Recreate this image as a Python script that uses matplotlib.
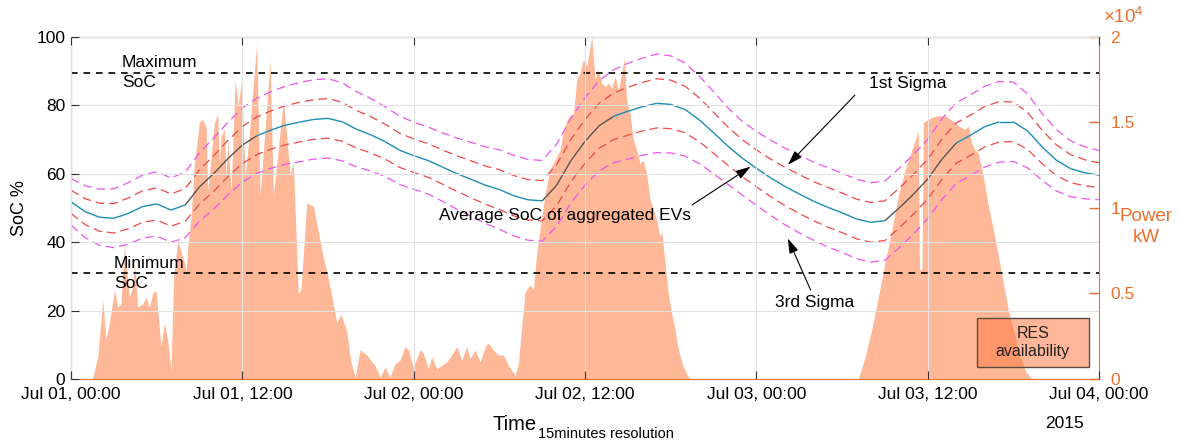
import numpy as np
import matplotlib
matplotlib.use("Agg")
import matplotlib.pyplot as plt
from matplotlib.collections import LineCollection
from matplotlib.patches import Rectangle

plt.rcParams['font.family'] = ['Liberation Sans', 'DejaVu Sans']
plt.rcParams['mathtext.fontset'] = 'custom'
plt.rcParams['mathtext.rm'] = 'Liberation Sans'
plt.rcParams['mathtext.it'] = 'Liberation Sans:italic'

# ---------------- data ----------------
hours = list(range(73))
avg_soc = [51.8, 48.9, 47.3, 47.0, 48.4, 50.4, 51.2, 49.4, 50.9, 56.2,
           60.1, 64.5, 68.4, 71.1, 72.8, 74.2, 75.1, 75.9, 76.2, 75.2,
           73.0, 71.4, 69.4, 66.9, 65.3, 63.9, 62.0, 60.1, 58.4, 56.7,
           55.4, 53.6, 52.4, 52.1, 56.6, 63.8, 69.5, 74.1, 76.8, 78.3,
           79.6, 80.6, 80.3, 78.8, 75.8, 72.0, 68.1, 64.6, 61.6, 58.8,
           56.3, 54.1, 52.0, 50.2, 48.6, 46.8, 45.8, 46.3, 50.0, 54.0,
           58.5, 64.3, 69.0, 71.3, 73.8, 75.2, 75.2, 72.5, 67.9, 64.0,
           61.5, 60.3, 59.6]
sigma = [3.4, 3.8, 4.1, 4.3, 4.5, 4.6, 4.7, 4.7, 4.8, 5.0,
         5.2, 5.3, 5.4, 5.5, 5.6, 5.7, 5.8, 5.8, 5.8, 5.7,
         5.5, 5.3, 5.1, 5.0, 4.9, 4.9, 5.0, 5.2, 5.4, 5.6,
         5.8, 5.9, 5.9, 5.9, 6.0, 6.2, 6.4, 6.6, 6.8, 7.0,
         7.1, 7.2, 7.1, 6.8, 6.4, 6.0, 5.6, 5.4, 5.4, 5.5,
         5.6, 5.7, 5.7, 5.8, 5.8, 5.8, 5.8, 5.8, 5.8, 5.8,
         5.8, 5.9, 5.9, 5.9, 5.9, 5.9, 5.8, 5.4, 4.9, 4.5,
         4.1, 3.8, 3.6]

res_hours = [0, 1.5, 1.87, 2.22, 2.45, 2.69, 3.04, 3.27, 3.50, 3.74, 3.85, 4.09, 4.32, 4.44, 4.67,
             5.02, 5.25, 5.49, 5.72, 5.95, 6.19, 6.30, 6.54, 6.77, 7.00, 7.19, 7.47, 7.70, 7.94,
             8.06, 8.17, 8.41, 8.64, 8.99, 9.22, 9.46, 9.57, 9.81, 10.04, 10.27, 10.39, 10.51,
             10.74, 10.86, 10.97, 11.21, 11.32, 11.49, 11.70, 11.95, 12.19, 12.50, 13.00, 13.24,
             13.94, 14.17, 14.87, 15.34, 15.57, 15.92, 16.10, 16.51, 16.97, 17.30, 17.67, 17.91,
             18.30, 18.61, 18.90, 19.31, 19.60, 19.90, 20.24, 20.71, 21.29, 21.64, 21.99, 22.34,
             22.69, 23.04, 23.39, 23.63, 23.97, 24.44, 24.68, 25.03, 25.26, 25.61, 25.96, 26.31,
             26.66, 27.01, 27.36, 27.71, 27.94, 28.30, 28.65, 29.00, 29.23, 29.58, 29.93, 30.28,
             30.63, 30.87, 31.10, 31.33, 31.57, 31.80, 32.15, 32.38, 32.62, 32.85, 33.20, 33.55,
             33.90, 34.25, 34.46, 34.72, 34.95, 35.18, 35.42, 35.65, 35.88, 36.12, 36.30, 36.47,
             36.58, 36.70, 36.93, 37.17, 37.40, 37.63, 37.87, 38.10, 38.33, 38.57, 38.73, 38.92,
             39.15, 39.38, 39.62, 39.85, 40.08, 40.32, 40.55, 40.78, 41.02, 41.25, 41.37, 41.60,
             41.83, 42.07, 42.30, 42.54, 42.89, 43.24, 43.58, 55.14, 55.61, 56.08, 56.54, 57.01,
             57.48, 57.94, 58.41, 58.88, 59.23, 59.34, 59.42, 59.60, 59.69, 60.28, 60.74, 61.21,
             61.56, 61.91, 62.15, 62.61, 62.85, 63.08, 63.31, 63.55, 63.90, 64.25, 64.60, 64.95,
             65.30, 65.65, 66.00, 66.47, 66.82, 67.17, 67.52, 72]
# RES power in units of 10^4 kW
res_power = [0, 0, 0.13, 0.46, 0.23, 0.33, 0.52, 0.42, 0.44, 0.79, 0.67, 0.48, 0.54, 0.68, 0.42,
             0.44, 0.48, 0.42, 0.50, 0.52, 0.29, 0.19, 0.33, 0.23, 0.05, 0.60, 0.81, 0.75, 0.68,
             0.63, 0.77, 0.95, 1.26, 1.50, 1.52, 1.47, 1.10, 1.30, 1.50, 1.55, 1.26, 1.42,
             1.46, 1.18, 1.40, 1.10, 1.34, 1.75, 1.60, 1.75, 1.18, 1.45, 1.96, 1.07,
             1.86, 1.07, 1.63, 1.20, 1.26, 0.50, 0.52, 1.03, 1.01, 0.87, 0.71, 0.63,
             0.47, 0.33, 0.38, 0.28, 0.10, 0.01, 0.17, 0.14, 0.08, 0.01, 0.07, 0.01,
             0.09, 0.11, 0.19, 0.17, 0.07, 0.17, 0.15, 0.06, 0.13, 0.06, 0.08, 0.10,
             0.14, 0.19, 0.11, 0.19, 0.12, 0.17, 0.10, 0.19, 0.21, 0.17, 0.14, 0.14,
             0.08, 0.05, 0.02, 0.09, 0.31, 0.51, 0.55, 0.52, 0.74, 0.88, 1.08, 1.23,
             1.28, 1.34, 1.44, 1.51, 1.54, 1.55, 1.75, 1.79, 1.87, 1.83, 1.92, 2.00,
             1.88, 1.75, 1.81, 1.73, 1.71, 1.73, 1.70, 1.77, 1.69, 1.79, 1.88, 1.63,
             1.55, 1.40, 1.34, 1.26, 1.28, 1.20, 1.05, 0.99, 0.93, 0.83, 0.87, 0.68,
             0.50, 0.38, 0.29, 0.17, 0.07, 0.01, 0, 0, 0.13, 0.29, 0.48, 0.68,
             0.87, 1.07, 1.22, 1.34, 1.42, 1.45, 0.64, 0.64, 1.50, 1.53, 1.54, 1.54,
             1.52, 1.50, 1.48, 1.46, 1.48, 1.38, 1.34, 1.32, 1.18, 1.01, 0.87, 0.72,
             0.56, 0.40, 0.29, 0.13, 0.05, 0.01, 0, 0]

max_soc = 89.6
min_soc = 30.9
xtick_hours = [0, 12, 24, 36, 48, 60, 72]
xtick_labels = ['Jul 01, 00:00', 'Jul 01, 12:00', 'Jul 02, 00:00', 'Jul 02, 12:00',
                'Jul 03, 00:00', 'Jul 03, 12:00', 'Jul 04, 00:00']
soc_ticks = [0, 20, 40, 60, 80, 100]
power_ticks = [0, 0.5, 1, 1.5, 2]
power_tick_labels = ['0', '0.5', '1', '1.5', '2']

# ---------------- figure ----------------
ORANGE = '#EE6F2D'
AREA = '#FFB897'
fig = plt.figure(figsize=(11.78, 4.41), dpi=100)
ax = fig.add_axes([0.0603, 0.1406, 0.8727, 0.7755])
ax2 = ax.twinx()
ax.set_zorder(ax2.get_zorder() + 1)
ax.patch.set_visible(False)

# RES availability area (right axis)
ax2.fill_between(res_hours, 0, res_power, color=AREA, lw=0)
ax2.set_ylim(0, 2)
ax2.set_yticks(power_ticks)
ax2.set_yticklabels(power_tick_labels)
ax2.tick_params(axis='y', direction='in', length=7, width=1, colors=ORANGE,
                labelsize=12.5, pad=8)
for s in ['left', 'top', 'bottom']:
    ax2.spines[s].set_visible(False)
ax2.spines['right'].set_color(ORANGE)

# grid
ax.set_xlim(0, 72)
ax.set_ylim(0, 100)
ax.set_xticks(xtick_hours)
ax.set_xticklabels(xtick_labels)
ax.set_yticks(soc_ticks)
ax.grid(True, color='#e2e2e2', lw=0.8)
ax.set_axisbelow(False)
ax.tick_params(axis='both', direction='in', length=6, labelsize=12.5, color='#333333')
ax.tick_params(axis='x', pad=6, top=True)
ax.tick_params(axis='y', pad=4)
for s in ['left', 'top']:
    ax.spines[s].set_color('#333333')
ax.spines['bottom'].set_color(ORANGE)
ax.spines['right'].set_visible(False)

h = np.array(hours, dtype=float)
a = np.array(avg_soc)
sg = np.array(sigma)

# sigma bands
ax.plot(h, a + 2 * sg, color='#EE55EE', lw=0.9, dashes=(7, 4))
ax.plot(h, a - 2 * sg, color='#EE55EE', lw=0.9, dashes=(7, 4))
ax.plot(h, a + sg, color='#F04848', lw=0.9, dashes=(7, 4))
ax.plot(h, a - sg, color='#F04848', lw=0.9, dashes=(7, 4))

# average SoC: charging segments in gray, others teal
pts = np.column_stack([h, a])
segs = np.stack([pts[:-1], pts[1:]], axis=1)
cols = ['#555555' if d > 2.5 else '#1B8DB5' for d in np.diff(a)]
ax.add_collection(LineCollection(segs, colors=cols, linewidths=1.0))

# Max / Min SoC lines
ax.axhline(max_soc, color='black', lw=1.2, dashes=(4, 3.5))
ax.axhline(min_soc, color='black', lw=1.2, dashes=(4, 3.5))
ax.text(3.57, max_soc, 'Maximum\nSoC', ha='left', va='center', fontsize=12.5, linespacing=1.45)
ax.text(3.0, min_soc, 'Minimum\nSoC', ha='left', va='center', fontsize=12.5, linespacing=1.45)

# annotations
arrow = dict(arrowstyle='-|>,head_length=0.9,head_width=0.28', color='black', lw=0.8,
             shrinkA=0, shrinkB=0)
ax.annotate('', xy=(50.2, 62.6), xytext=(54.9, 83.0), arrowprops=arrow)
ax.text(58.6, 86.3, '1st Sigma', ha='center', va='center', fontsize=12.5)
ax.annotate('', xy=(47.6, 62.1), xytext=(43.5, 50.9), arrowprops=arrow)
ax.text(34.6, 47.7, 'Average SoC of aggregated EVs', ha='center', va='center', fontsize=12.5)
ax.annotate('', xy=(50.2, 41.1), xytext=(51.8, 26.0), arrowprops=arrow)
ax.text(52.1, 22.5, '3rd Sigma', ha='center', va='center', fontsize=12.5)

# legend-like box
ax.add_patch(Rectangle((0.881, 0.035), 0.109, 0.143, transform=ax.transAxes,
                       facecolor='#FF7A45', alpha=0.55, edgecolor='none', zorder=5))
ax.add_patch(Rectangle((0.881, 0.035), 0.109, 0.143, transform=ax.transAxes,
                       facecolor='none', edgecolor='#5a4a44', lw=1.0, zorder=6))
ax.text(0.9355, 0.1065, 'RES\navailability', transform=ax.transAxes, ha='center',
        va='center', fontsize=11.5, color='#222222', zorder=7, linespacing=1.3)

# labels
ax.set_ylabel('SoC %', fontsize=13, labelpad=6)
fig.text(1146 / 1178, 1 - 227 / 441, 'Power\nkW', color=ORANGE, ha='center', va='center',
         fontsize=13.5, linespacing=1.35)
fig.text(1103 / 1178, 1 - 17 / 441, r'$\mathregular{\times10^{4}}$', color=ORANGE,
         ha='left', va='center', fontsize=13.5)
fig.text(537 / 1178, 1 - 425 / 441, 'Time', ha='right', va='center', fontsize=14.5)
fig.text(538 / 1178, 1 - 434 / 441, '15minutes resolution', ha='left', va='center',
         fontsize=10.5)
fig.text(1065 / 1178, 1 - 423 / 441, '2015', ha='center', va='center', fontsize=12.5)

fig.savefig('out.png', dpi=100)
